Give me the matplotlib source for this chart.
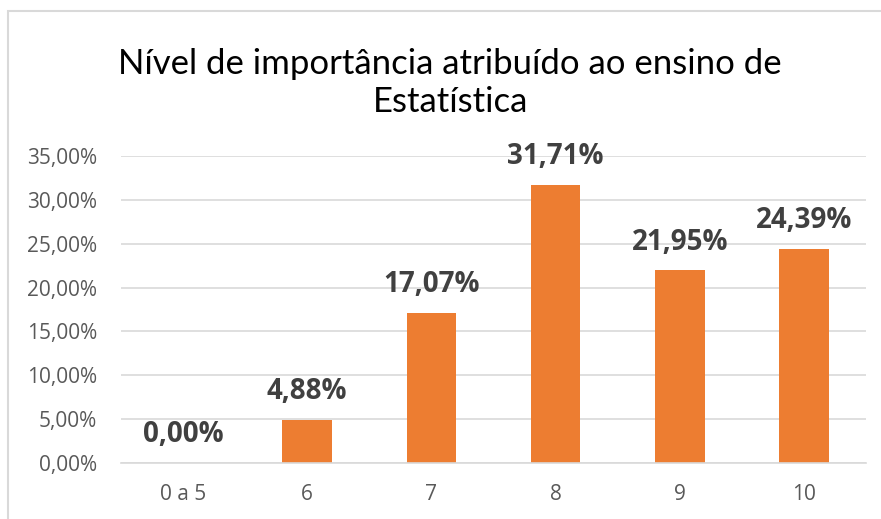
import matplotlib.pyplot as plt
from matplotlib.patches import Rectangle
import numpy as np

plt.rcParams['font.family'] = ['Open Sans', 'DejaVu Sans']

categories = ['0 a 5', '6', '7', '8', '9', '10']
values = [0.0, 4.88, 17.07, 31.71, 21.95, 24.39]
yticks = [0, 5, 10, 15, 20, 25, 30, 35]
title = 'Nível de importância atribuído ao ensino de\nEstatística'

bar_color = '#ED7D31'
grid_color = '#D9D9D9'
tick_color = '#595959'
label_color = '#404040'


def fmt(v):
    return '{:.2f}%'.format(v).replace('.', ',')


def main():
    fig = plt.figure(figsize=(8.81, 5.19), dpi=100)
    ax = fig.add_axes([0.1373, 0.1079, 0.983 - 0.1373, 0.6994 - 0.1079])

    # chart frame (cut off at right and bottom like the reference)
    fig.patches.append(Rectangle((8 / 881, -0.1), 1.1, 1 - 11 / 519 + 0.1,
                                 transform=fig.transFigure, fill=False,
                                 edgecolor='#D9D9D9', linewidth=1.5))

    x = np.arange(len(categories))
    bars = ax.bar(x, values, width=0.4, color=bar_color, zorder=2)

    ax.set_xlim(-0.5, len(categories) - 0.5)
    ax.set_ylim(0, 35)
    ax.set_yticks(yticks)
    ax.set_yticklabels([fmt(t) for t in yticks])
    ax.set_xticks(x)
    ax.set_xticklabels(categories)
    ax.yaxis.grid(True, color=grid_color, linewidth=1.2, zorder=0)
    ax.set_axisbelow(True)
    for side in ['top', 'right', 'left']:
        ax.spines[side].set_visible(False)
    ax.spines['bottom'].set_color(grid_color)
    ax.spines['bottom'].set_linewidth(1.2)
    ax.tick_params(length=0, colors=tick_color, labelsize=15)
    ax.tick_params(axis='y', pad=17)
    ax.tick_params(axis='x', pad=15)

    for bar, v in zip(bars, values):
        ax.annotate(fmt(v), (bar.get_x() + bar.get_width() / 2, v),
                    xytext=(0, 10), textcoords='offset points',
                    ha='center', va='bottom', fontsize=20,
                    fontweight='bold', color=label_color)

    fig.text(0.511, 0.84, title, ha='center', va='center', fontsize=25,
             family=['Lato', 'DejaVu Sans'], color='black', linespacing=1.2)

    plt.savefig('out.png', dpi=100)


main()
